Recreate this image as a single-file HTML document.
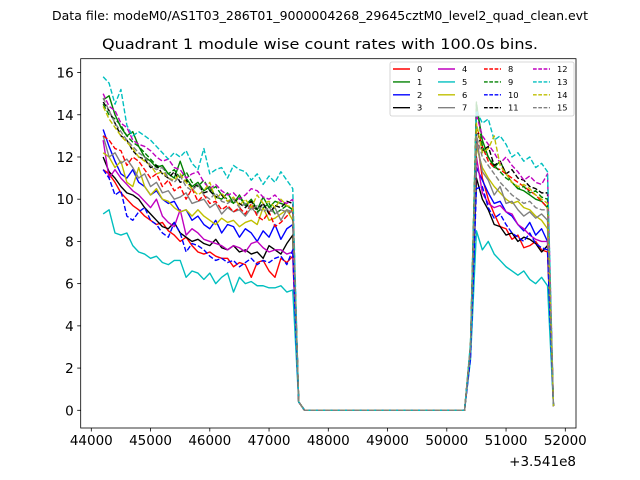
<!DOCTYPE html>
<html><head><meta charset="utf-8"><style>
body{margin:0;background:#fff}
svg{display:block;font-family:"DejaVu Sans","Liberation Sans",sans-serif}
</style></head><body>
<svg id="chart" width="640" height="480" viewBox="0 0 640 480" xmlns="http://www.w3.org/2000/svg">
<rect width="640" height="480" fill="#fff"/>
<text x="320" y="20" font-size="12" text-anchor="middle" textLength="536" lengthAdjust="spacingAndGlyphs">Data file: modeM0/AS1T03_286T01_9000004268_29645cztM0_level2_quad_clean.evt</text>
<text x="320" y="49" font-size="14.5" text-anchor="middle" textLength="436" lengthAdjust="spacingAndGlyphs">Quadrant 1 module wise count rates with 100.0s bins.</text>
<g id="marks"></g>
<g id="axes"></g>
<g id="legend"></g>
</svg>
<script>
const t0 = 44200, step = 100;
const gap = [0,0,0,0,0,0,0,0,0,0,0,0,0,0,0,0,0,0,0,0,0,0,0,0,0,0,0,0];
const segA = [
[11.4,11.2,10.8,10.3,10.0,9.7,9.5,9.2,9.0,8.8,8.9,8.5,8.3,8.0,8.2,7.8,7.5,7.4,7.5,7.3,7.2,7.2,6.8,7.0,6.9,6.3,7.0,7.1,6.6,6.3,7.2,7.0,7.3,0.4],
[14.7,14.9,14.0,13.4,13.0,13.2,12.5,12.0,11.8,11.5,11.6,11.2,11.0,11.8,11.0,10.6,10.8,10.4,10.6,10.1,10.0,10.3,9.8,10.2,9.7,10.0,9.5,10.1,9.6,9.9,9.8,9.7,9.5,0.4],
[13.3,12.5,11.8,11.2,11.0,11.4,10.8,10.6,10.2,10.4,10.0,9.8,9.9,9.4,9.5,9.0,9.2,8.8,8.6,9.0,8.4,8.8,8.7,8.2,8.6,8.4,8.0,8.5,8.2,8.8,8.1,8.6,8.8,0.4],
[12.0,11.3,11.0,10.6,10.3,10.2,10.0,9.6,9.3,9.0,8.7,8.6,8.9,8.4,8.2,8.0,8.1,7.9,7.8,8.1,7.7,7.6,7.8,7.5,7.6,7.4,7.5,7.2,7.8,7.6,7.4,7.9,8.3,0.4],
[12.8,11.0,11.4,11.0,10.7,10.4,10.2,9.9,9.6,10.0,9.2,8.9,8.7,9.5,8.3,8.6,8.4,8.1,8.0,7.9,7.8,7.6,7.8,7.7,7.5,7.9,8.0,7.7,7.5,7.6,7.6,7.4,7.5,0.4],
[9.3,9.5,8.4,8.3,8.4,7.8,7.5,7.4,7.2,7.3,7.0,6.9,7.1,7.1,6.3,6.6,6.5,6.2,6.5,6.0,6.3,6.5,5.6,6.3,6.0,6.1,5.9,5.9,5.8,5.8,5.9,5.6,5.7,0.4],
[12.2,12.0,11.5,11.8,10.8,10.6,11.5,10.6,10.2,10.5,10.0,9.9,9.6,9.4,9.5,9.2,9.5,9.2,9.0,8.8,9.1,8.9,9.0,8.7,8.9,9.0,8.8,9.6,9.0,9.1,9.3,9.5,9.0,0.4],
[13.0,12.0,12.2,11.7,11.9,11.5,11.0,11.2,10.6,10.8,10.3,10.4,10.0,10.1,10.3,9.8,9.9,10.0,9.6,9.8,9.3,9.6,9.4,9.5,9.2,9.6,9.3,9.8,9.4,9.6,9.0,9.5,9.4,0.4],
[13.0,12.8,12.4,12.3,11.6,12.0,11.8,11.4,11.0,11.2,10.6,10.9,10.4,10.6,10.0,10.5,9.9,10.2,9.8,9.9,9.5,9.7,9.4,9.6,9.3,9.8,9.2,9.0,9.4,8.7,8.9,9.2,9.5,0.4],
[14.5,14.0,13.8,13.5,13.0,12.7,12.5,12.2,11.9,11.6,11.5,11.2,11.4,11.0,11.3,10.8,10.6,10.9,10.4,10.6,10.2,10.0,9.8,10.1,9.7,9.9,9.4,9.6,9.8,9.3,9.5,9.7,9.5,0.4],
[11.4,11.0,10.2,10.4,9.2,9.0,9.4,9.6,9.0,8.8,8.4,8.2,8.9,8.4,7.5,7.9,7.8,7.6,7.3,7.1,7.2,7.0,7.1,6.8,7.0,7.2,6.9,7.1,7.0,7.2,7.3,6.9,7.6,0.4],
[14.6,14.2,13.6,13.0,12.8,12.3,12.0,11.9,11.5,11.6,11.2,11.0,11.3,10.8,10.9,10.5,10.7,10.3,10.4,10.1,10.2,9.9,10.0,9.8,9.6,9.9,9.5,9.8,9.3,9.7,9.6,9.9,9.8,0.4],
[15.0,14.4,14.2,13.6,13.4,12.8,12.6,12.5,12.3,12.0,11.8,11.9,11.5,11.4,11.0,11.2,11.3,10.8,10.5,10.7,10.4,10.2,10.3,10.0,10.2,10.5,10.4,10.1,10.0,10.2,9.9,9.8,10.0,0.4],
[15.8,15.5,14.5,15.2,13.5,13.0,13.2,13.0,12.8,12.5,12.2,11.9,12.2,12.0,12.3,11.7,11.4,12.4,11.2,11.4,11.5,11.0,11.6,11.4,11.3,10.9,11.2,10.7,11.1,10.8,11.3,10.9,10.5,0.4],
[14.4,13.8,13.4,13.0,12.7,12.4,12.0,11.8,11.6,11.2,11.3,11.0,10.9,11.2,10.8,10.5,10.2,10.4,10.8,10.0,10.3,9.9,10.1,9.7,10.0,9.6,10.2,9.8,9.9,9.6,10.0,9.7,9.6,0.4],
[14.8,14.2,13.6,13.2,12.8,12.5,12.2,12.0,11.6,11.4,11.5,11.0,10.8,11.1,10.6,10.4,10.7,10.2,10.0,10.3,9.9,9.8,10.0,9.6,9.8,9.5,9.7,9.4,9.6,9.3,9.5,9.4,9.4,0.4]
];
const segB = [
[2.8,13.0,11.0,10.0,9.3,8.7,8.6,8.1,8.3,7.7,7.8,8.0,7.6,7.5,0.2],
[3.0,14.5,12.8,12.0,11.5,11.8,11.2,10.8,10.5,10.4,10.2,10.0,9.9,9.6,0.2],
[2.8,11.5,10.9,10.3,9.8,9.9,9.4,9.2,8.8,8.5,8.9,8.3,8.6,8.0,0.2],
[2.9,11.0,10.0,9.5,8.8,8.7,8.3,8.4,8.0,8.2,8.1,7.9,7.5,7.8,0.2],
[2.9,12.0,10.3,9.8,9.6,9.7,9.4,9.3,8.8,8.6,8.3,8.1,8.0,8.0,0.2],
[2.4,8.5,7.6,8.0,7.4,7.1,6.8,6.6,6.4,6.6,6.2,6.0,6.3,5.9,0.2],
[2.9,12.5,11.5,11.0,10.6,10.3,10.0,9.8,9.9,9.6,9.5,9.2,9.0,8.6,0.2],
[2.9,12.8,11.3,10.9,10.2,10.6,9.8,9.9,9.5,9.2,9.4,9.1,9.3,9.0,0.2],
[3.0,13.5,12.5,11.8,11.5,11.4,11.2,11.0,10.8,10.6,10.4,10.2,9.9,9.6,0.2],
[3.1,14.6,12.5,12.0,11.6,11.3,11.0,10.8,10.5,10.6,10.3,10.4,10.1,10.0,0.2],
[2.5,10.5,10.6,9.6,9.1,9.3,8.8,8.4,8.2,8.0,8.4,7.9,7.7,7.6,0.2],
[3.0,13.4,12.3,12.5,11.6,11.8,11.2,11.4,11.0,10.9,10.6,10.5,10.3,10.3,0.2],
[3.0,14.0,13.0,12.6,12.2,11.7,12.0,11.6,11.3,10.9,11.1,10.8,10.7,11.2,0.2],
[3.2,14.2,13.6,13.8,12.8,13.0,12.6,12.0,12.2,11.8,12.0,11.5,11.7,11.3,0.2],
[3.0,13.6,12.2,12.4,13.0,11.6,11.2,10.8,10.6,10.7,10.5,10.2,10.0,9.8,0.2],
[3.0,13.0,12.0,11.6,11.2,10.8,10.5,10.2,10.0,9.8,9.9,9.6,9.5,9.5,0.2]
];
const seriesLabels = ["0","1","2","3","4","5","6","7","8","9","10","11","12","13","14","15"];
const xTicks = [44000,45000,46000,47000,48000,49000,50000,51000,52000];
const yTicks = [0,2,4,6,8,10,12,14,16];

const colors = ["#ff0000","#008000","#0000ff","#000000","#bf00bf","#00bfbf","#bfbf00","#808080"];
const L=80.7,R=576,T=58.7,B=428;
const X = v => 91.3 + (v-44000)*0.05925;
const Y = v => 410.3 - v*21.11;
const NS="http://www.w3.org/2000/svg";
function mk(tag, attrs, parent){const e=document.createElementNS(NS,tag);for(const k in attrs)e.setAttribute(k,attrs[k]);parent.appendChild(e);return e;}

const marks=document.getElementById('marks');
segA.forEach((a,s)=>{
  const vals=a.concat(gap, segB[s]);
  const pts=vals.map((v,i)=>X(t0+i*step).toFixed(2)+","+Y(v).toFixed(2)).join(" ");
  const p=mk('polyline',{points:pts,fill:"none",stroke:colors[s%8],"stroke-width":1.39,"stroke-linejoin":"round"},marks);
  if(s>=8)p.setAttribute('stroke-dasharray','5.1,2.2');
  
  
});

const axes=document.getElementById('axes');
const frame=mk('rect',{x:L,y:T,width:R-L,height:B-T,fill:"none",stroke:"#000","stroke-width":0.8},axes);


xTicks.forEach(v=>{
  const x=X(v);
  const tk=mk('line',{x1:x,x2:x,y1:B,y2:B+3.5,stroke:"#000","stroke-width":0.8},axes);
  
  
  const t=mk('text',{x:x,y:B+17,"font-size":13.5,"text-anchor":"middle"},axes);
  t.textContent=v;
  
  
});
yTicks.forEach(v=>{
  const y=Y(v);
  const tk=mk('line',{x1:L-3.5,x2:L,y1:y,y2:y,stroke:"#000","stroke-width":0.8},axes);
  
  
  const t=mk('text',{x:L-7,y:y+5,"font-size":13.5,"text-anchor":"end"},axes);
  t.textContent=v;
  
  
});
const off=mk('text',{x:576,y:466,"font-size":13.5,"text-anchor":"end"},axes);
off.textContent="+3.541e8";



const leg=document.getElementById('legend');
const box=mk('rect',{x:390,y:62,width:184,height:54,rx:2,fill:"#fff","fill-opacity":0.8,stroke:"#ccc","stroke-width":0.8},leg);


const colX=[393,438,484,533];
seriesLabels.forEach((lab,s)=>{
  const c=Math.floor(s/4), r=s%4;
  const y=69+r*12.9, x=colX[c];
  const ln=mk('line',{x1:x,x2:x+17,y1:y,y2:y,stroke:colors[s%8],"stroke-width":1.39},leg);
  if(s>=8)ln.setAttribute('stroke-dasharray','3.7,1.6');
  
  
  const t=mk('text',{x:x+24,y:y+3,"font-size":8.3},leg);
  t.textContent=lab;
  
  
});
</script>
</body></html>
